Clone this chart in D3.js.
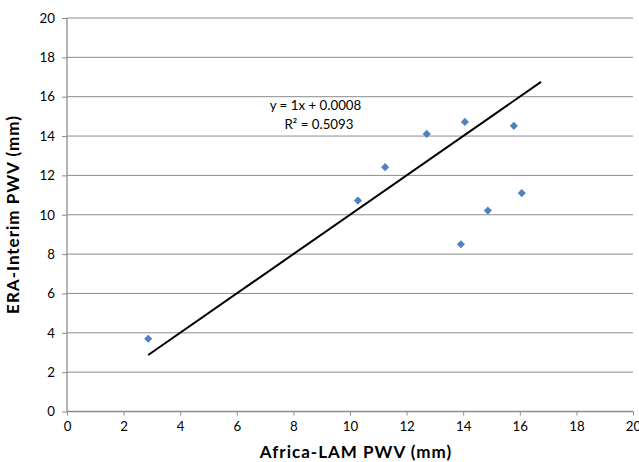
<!DOCTYPE html>
<html>
<head>
<meta charset="utf-8">
<script src="https://cdn.jsdelivr.net/npm/d3@7"></script>
<style>
  body { margin: 0; background: #fff; }
  text { font-family: Lato, "Open Sans", sans-serif; }
</style>
</head>
<body>
<script>
// scatter points
var lamPwv = [2.87, 10.28, 11.24, 12.71, 14.06, 13.92, 14.87, 15.79, 16.07];
var eraPwv = [3.70, 10.72, 12.42, 14.11, 14.72, 8.50, 10.21, 14.52, 11.10];
var xTicks = [0, 2, 4, 6, 8, 10, 12, 14, 16, 18, 20];
var yTicks = [0, 2, 4, 6, 8, 10, 12, 14, 16, 18, 20];
var slope = 1, intercept = 0.0008;
var trendRange = [2.87, 16.75];
var eqLabel = "y = 1x + 0.0008";
var r2Label = "R\u00b2 = 0.5093";

var margin = {top: 18, right: 6, bottom: 50, left: 67},
    width = 639 - margin.left - margin.right,
    height = 462 - margin.top - margin.bottom;

var svg = d3.select("body").append("svg")
    .attr("width", 639)
    .attr("height", 462)
    .append("g")
    .attr("transform", "translate(" + margin.left + "," + margin.top + ")");

var x = d3.scaleLinear().domain([0, 20]).range([0, 566]);
var y = d3.scaleLinear().domain([0, 20]).range([393.5, 0]);

// horizontal gridlines
svg.selectAll(".grid")
    .data(yTicks.slice(1))
    .enter()
    .append("line")
    .attr("x1", 0)
    .attr("x2", width)
    .attr("y1", function(d) { return y(d); })
    .attr("y2", function(d) { return y(d); })
    .style("stroke", "#8c8c8c")
    .style("stroke-width", 1);

var xAxis = svg.append("g")
    .attr("transform", "translate(0," + y(0) + ")")
    .call(d3.axisBottom(x).tickValues(xTicks).tickSize(4).tickPadding(6));

var yAxis = svg.append("g")
    .call(d3.axisLeft(y).tickValues(yTicks).tickSize(5).tickPadding(7));

svg.selectAll(".domain").style("stroke", "#8c8c8c").style("stroke-width", 1.3);
svg.selectAll(".tick line").style("stroke", "#8c8c8c");
svg.selectAll(".tick text")
    .style("font-size", "13.3px")
    .style("fill", "#000");
yAxis.select(".domain").attr("d", "M0," + y(0) + "V" + y(20));
xAxis.select(".domain").attr("d", "M0,0H" + x(20));

// trendline
svg.append("line")
    .attr("x1", x(trendRange[0]))
    .attr("y1", y(slope * trendRange[0] + intercept))
    .attr("x2", x(trendRange[1]))
    .attr("y2", y(slope * trendRange[1] + intercept))
    .style("stroke", "#000")
    .style("stroke-width", 2);

// points
var diamond = d3.symbol().type(d3.symbolDiamond2).size(42);
svg.selectAll(".pt")
    .data(lamPwv)
    .enter()
    .append("path")
    .attr("d", diamond)
    .attr("transform", function(d, i) { return "translate(" + x(d) + "," + y(eraPwv[i]) + ")"; })
    .style("fill", "#4f81bd");

svg.append("text")
    .attr("x", 248.5)
    .attr("y", 92)
    .attr("text-anchor", "middle")
    .style("font-size", "13.3px")
    .text(eqLabel);

svg.append("text")
    .attr("x", 252)
    .attr("y", 111)
    .attr("text-anchor", "middle")
    .style("font-size", "13.3px")
    .text(r2Label);

svg.append("text")
    .attr("x", 289)
    .attr("y", 439.5)
    .attr("text-anchor", "middle")
    .style("font-size", "17px")
    .style("letter-spacing", "1px")
    .style("font-weight", "bold")
    .text("Africa-LAM PWV (mm)");

svg.append("text")
    .attr("transform", "rotate(-90)")
    .attr("x", -196.5)
    .attr("y", -48)
    .attr("text-anchor", "middle")
    .style("font-size", "17px")
    .style("letter-spacing", "1px")
    .style("font-weight", "bold")
    .text("ERA-Interim PWV (mm)");
</script>
</body>
</html>
